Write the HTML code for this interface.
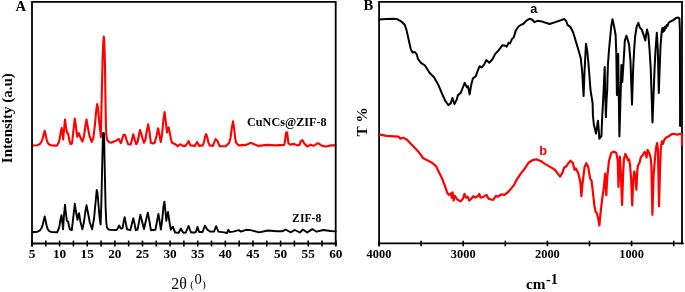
<!DOCTYPE html>
<html><head><meta charset="utf-8"><title>XRD and FTIR</title>
<style>
html,body{margin:0;padding:0;background:#fff;}
svg{display:block}
text{font-family:"Liberation Serif",serif;font-weight:bold;fill:#000}
.sans{font-family:"Liberation Sans",sans-serif}
</style></head><body>
<svg width="685" height="292" viewBox="0 0 685 292">
<rect width="685" height="292" fill="#fff"/>
<g fill="none" stroke-linejoin="round" stroke-linecap="round">
<polyline stroke="#f00" stroke-width="2.1" points="32.3,145.5 37.5,145.2 40.0,143.8 41.6,141.5 42.8,138.0 43.8,134.0 44.7,130.8 45.6,134.5 46.6,139.5 47.8,143.0 49.5,144.8 52.0,145.5 57.0,145.6 59.0,142.0 60.5,134.0 61.6,128.0 62.6,134.0 63.2,139.5 64.0,130.0 65.0,119.5 66.0,127.0 67.0,132.5 68.2,134.0 69.3,140.0 70.5,144.3 72.0,143.5 73.5,130.0 74.8,118.5 76.0,127.0 77.2,136.8 78.9,133.2 80.6,138.0 82.4,141.6 84.0,136.0 85.4,126.0 86.5,119.5 87.8,127.0 89.5,136.0 91.8,142.0 93.5,137.0 95.0,124.0 96.3,110.0 97.2,104.0 98.2,110.0 99.4,124.0 100.3,132.0 100.9,137.0 101.3,115.0 101.9,90.0 102.6,60.0 103.3,42.0 103.8,36.5 104.3,42.0 104.9,62.0 105.4,95.0 105.9,125.0 106.4,136.0 107.2,140.0 109.0,142.0 111.0,142.8 115.3,141.1 117.3,139.8 118.7,139.0 119.8,141.0 120.9,143.2 122.2,139.0 123.5,134.8 125.2,135.1 126.6,140.0 128.1,144.2 130.7,144.5 132.0,139.5 133.3,134.2 134.7,139.5 136.2,144.2 137.6,142.0 138.9,135.0 140.1,130.0 141.4,134.0 142.7,139.0 144.0,142.8 145.3,140.0 146.8,131.0 148.2,124.3 149.5,132.0 150.9,142.8 152.8,143.5 154.7,142.8 156.5,136.0 158.1,128.3 159.4,135.0 160.7,142.0 162.0,135.0 163.3,121.0 164.6,112.0 165.8,122.0 167.0,132.5 167.8,129.0 168.7,127.4 169.8,133.0 171.0,139.5 172.1,142.8 174.3,143.7 177.8,146.2 180.0,144.2 182.9,145.9 185.5,145.9 187.2,143.5 188.6,141.1 189.6,143.5 190.6,145.4 194.9,145.9 196.0,144.0 197.1,142.0 198.2,144.0 199.3,145.9 202.7,145.4 204.0,142.0 205.0,137.0 206.1,134.2 207.2,137.0 208.3,142.0 209.6,145.4 213.0,145.9 214.2,142.5 215.5,139.0 217.6,141.1 218.7,144.0 219.8,146.2 225.8,146.2 229.2,142.8 230.5,138.0 231.8,128.0 233.0,121.4 234.1,128.0 235.1,138.0 236.1,142.8 238.7,145.4 246.4,144.9 250.7,142.8 254.1,144.2 258.4,145.9 266.9,144.9 275.5,145.4 284.3,144.9 285.3,139.3 285.8,134.5 286.3,132.2 287.2,132.7 287.8,138.0 288.4,143.4 290.4,144.6 294.0,143.9 297.1,145.4 299.6,144.9 300.6,141.3 302.5,140.1 304.2,143.4 307.3,146.5 310.9,144.6 313.4,145.9 318.0,143.2 322.1,145.9 326.2,146.5 331.3,145.4 335.4,145.4"/>
<polyline stroke="#000" stroke-width="1.9" points="32.3,232.2 37.5,231.7 40.0,230.3 41.6,228.0 42.8,224.5 43.8,220.0 44.7,216.4 45.6,220.5 46.6,225.5 47.8,229.3 49.5,231.3 52.0,232.1 57.3,232.2 59.2,227.4 60.4,220.0 61.5,215.1 62.3,222.0 63.1,229.3 64.0,215.0 65.0,204.8 66.0,214.0 66.9,220.8 68.2,221.7 69.0,226.0 69.9,229.3 71.8,230.2 73.3,217.0 74.8,203.8 76.2,213.0 77.5,219.8 78.2,215.5 79.0,213.2 80.5,222.0 82.4,229.3 84.0,222.0 85.3,212.0 86.5,205.3 87.8,212.0 89.8,222.5 92.1,229.3 94.0,219.0 95.6,202.0 96.7,190.0 97.4,192.0 98.5,205.0 99.6,218.0 100.6,224.5 101.3,205.0 102.1,170.0 102.8,140.0 103.1,133.0 103.9,133.0 104.2,140.0 104.8,172.0 105.6,207.0 106.3,222.5 106.9,227.3 108.2,229.3 110.0,229.9 116.6,230.0 118.0,228.0 119.2,225.5 120.2,227.5 121.0,228.6 122.6,228.1 123.6,222.0 124.6,217.2 125.8,223.0 127.0,229.3 130.3,230.2 131.8,224.0 133.3,218.3 134.6,224.0 135.8,230.2 137.5,229.7 139.0,222.0 140.4,214.8 142.2,222.0 144.0,229.0 145.8,221.0 147.8,212.6 149.4,221.0 150.9,230.2 155.4,229.8 156.7,223.0 158.4,213.9 159.7,222.0 160.9,229.6 162.2,220.0 163.4,207.0 164.4,201.6 165.3,210.0 166.3,220.8 167.2,215.0 168.0,211.9 169.2,220.0 170.0,225.5 170.9,229.7 172.0,227.5 173.0,226.8 174.1,230.0 175.2,232.5 178.6,232.8 179.8,230.5 180.9,228.5 182.1,231.0 183.4,232.8 185.8,232.5 187.3,229.0 188.6,226.0 189.9,229.5 191.1,232.5 194.9,232.5 196.2,231.6 197.5,226.9 199.1,232.0 202.6,232.0 203.8,228.5 204.9,225.7 206.0,227.5 207.4,229.8 210.3,231.6 214.0,231.6 215.2,228.5 216.2,226.2 217.3,229.0 218.4,231.6 224.2,232.4 227.1,233.0 228.3,229.8 229.7,232.0 233.0,231.6 238.8,230.1 241.0,231.6 246.1,229.8 250.5,230.1 259.2,232.4 268.0,230.5 276.8,231.3 282.6,231.2 285.6,229.5 290.5,232.3 294.8,230.0 299.9,232.5 303.0,229.5 307.2,232.5 312.3,229.1 316.6,231.7 323.2,230.0 330.5,231.0 335.6,231.4"/>
<polyline stroke="#000" stroke-width="2" points="379.1,19.5 386.3,19.1 393.8,18.7 397.6,19.3 401.4,21.6 404.8,24.8 406.6,30.4 408.9,40.8 410.8,49.3 412.7,52.5 414.9,52.1 416.8,54.3 417.9,58.8 421.0,62.8 425.0,65.5 429.5,72.8 434.0,77.3 438.4,85.1 441.7,92.9 445.1,100.7 448.4,105.1 450.7,103.4 452.4,98.0 454.4,104.0 456.7,99.6 458.0,95.1 460.7,92.9 463.4,86.2 464.7,82.9 466.9,87.3 468.0,86.2 469.6,94.4 471.4,84.0 472.9,78.4 475.8,76.2 477.4,71.7 479.6,66.2 481.8,67.3 484.1,64.6 486.3,60.1 489.2,62.8 492.3,59.5 495.2,53.9 498.5,50.5 502.2,45.3 505.4,45.7 506.7,46.6 508.6,42.8 510.1,43.4 511.9,39.1 513.8,37.2 515.7,30.6 518.5,26.5 521.4,24.6 523.2,24.0 526.1,20.8 529.8,18.7 532.3,19.7 534.5,22.1 537.4,20.8 542.1,21.6 549.6,24.0 555.3,22.1 560.9,20.2 564.3,18.9 566.2,21.2 567.5,24.9 570.3,26.8 573.2,32.5 576.0,41.9 578.8,51.3 580.7,57.9 582.2,72.0 583.6,96.0 584.6,70.0 586.0,43.8 587.4,52.0 588.6,65.0 590.5,90.0 592.6,103.0 592.9,115.0 593.8,124.2 596.0,133.6 598.0,120.7 599.4,138.7 601.4,136.2 602.3,115.0 603.4,95.0 604.1,80.0 604.7,67.0 605.1,90.0 605.9,117.3 606.5,101.0 607.2,90.0 607.5,78.0 607.9,65.0 609.0,50.0 610.3,36.0 611.3,26.0 612.5,19.3 614.1,26.5 615.6,34.7 616.3,53.0 616.9,95.0 617.6,58.0 618.2,54.0 619.4,136.5 620.7,92.0 621.4,65.0 622.3,82.0 623.2,68.0 624.0,55.3 624.8,40.9 626.4,35.7 628.1,40.9 629.1,45.0 630.5,61.4 632.0,104.4 633.2,67.6 634.2,49.1 635.1,36.8 636.7,26.5 638.4,22.8 639.8,27.5 641.8,29.6 643.9,35.7 645.3,40.5 647.0,29.6 648.4,34.7 649.5,49.1 650.7,67.6 652.5,122.5 654.6,67.6 655.6,49.1 656.8,32.7 657.8,49.0 658.8,93.0 659.7,67.0 660.6,45.0 661.8,30.6 662.5,28.0 663.2,31.8 663.8,27.8 664.4,30.8 665.2,26.5 666.0,28.0 666.8,25.0 667.6,26.0 668.5,23.0 669.6,22.0 672.7,20.3 675.7,18.3 678.2,17.4 679.4,18.5 679.9,30.6 680.1,126.0"/>
</g>
<g fill="none" stroke="#000" stroke-width="1.8">
<path d="M32 246.4V1.9H335.7V245.8"/>
<path d="M31.1 243.5H336.6"/>
<path d="M379.1 246.2V1.9H682V244.3"/>
<path d="M378.2 243.3H683.8"/>
</g>
<g stroke="#000" stroke-width="1.6"><line x1="32.00" y1="240.6" x2="32.00" y2="246.5"/><line x1="45.81" y1="240.6" x2="45.81" y2="246.5"/><line x1="59.62" y1="240.6" x2="59.62" y2="246.5"/><line x1="73.43" y1="240.6" x2="73.43" y2="246.5"/><line x1="87.24" y1="240.6" x2="87.24" y2="246.5"/><line x1="101.05" y1="240.6" x2="101.05" y2="246.5"/><line x1="114.86" y1="240.6" x2="114.86" y2="246.5"/><line x1="128.67" y1="240.6" x2="128.67" y2="246.5"/><line x1="142.48" y1="240.6" x2="142.48" y2="246.5"/><line x1="156.29" y1="240.6" x2="156.29" y2="246.5"/><line x1="170.10" y1="240.6" x2="170.10" y2="246.5"/><line x1="183.91" y1="240.6" x2="183.91" y2="246.5"/><line x1="197.72" y1="240.6" x2="197.72" y2="246.5"/><line x1="211.53" y1="240.6" x2="211.53" y2="246.5"/><line x1="225.34" y1="240.6" x2="225.34" y2="246.5"/><line x1="239.15" y1="240.6" x2="239.15" y2="246.5"/><line x1="252.96" y1="240.6" x2="252.96" y2="246.5"/><line x1="266.77" y1="240.6" x2="266.77" y2="246.5"/><line x1="280.58" y1="240.6" x2="280.58" y2="246.5"/><line x1="294.39" y1="240.6" x2="294.39" y2="246.5"/><line x1="308.20" y1="240.6" x2="308.20" y2="246.5"/><line x1="322.01" y1="240.6" x2="322.01" y2="246.5"/><line x1="335.82" y1="240.6" x2="335.82" y2="246.5"/><line x1="379.00" y1="240.7" x2="379.00" y2="246.3"/><line x1="421.10" y1="240.7" x2="421.10" y2="246.3"/><line x1="463.20" y1="240.7" x2="463.20" y2="246.3"/><line x1="505.30" y1="240.7" x2="505.30" y2="246.3"/><line x1="547.40" y1="240.7" x2="547.40" y2="246.3"/><line x1="589.50" y1="240.7" x2="589.50" y2="246.3"/><line x1="631.60" y1="240.7" x2="631.60" y2="246.3"/><line x1="673.70" y1="240.7" x2="673.70" y2="246.3"/></g>
<polyline fill="none" stroke-linejoin="round" stroke="#f00" stroke-width="2.2" points="379.1,134.4 386.3,135.9 393.8,136.3 398.5,136.7 400.4,138.6 403.2,137.8 407.0,139.7 412.7,145.7 418.3,151.4 423.0,158.0 427.7,160.4 432.4,163.0 436.2,166.4 438.5,171.3 442.2,178.8 445.1,186.4 447.3,193.0 448.8,194.8 451.1,193.5 451.7,197.7 452.6,192.4 453.7,200.5 454.9,195.8 457.3,199.5 460.7,201.4 463.0,198.6 464.5,193.9 466.2,197.7 467.7,196.7 469.2,200.5 471.4,198.6 473.3,196.2 475.6,197.7 478.0,195.8 479.3,193.9 480.5,197.7 483.7,196.7 486.5,194.8 488.4,198.6 491.2,199.5 493.1,199.9 495.9,195.8 497.8,196.7 501.6,194.3 504.4,194.8 508.2,192.0 511.0,188.6 513.8,185.4 516.6,179.8 520.4,174.1 523.8,169.8 528.5,162.8 533.2,159.8 536.9,159.4 540.7,160.9 544.5,163.6 550.1,166.9 554.8,169.8 557.7,173.5 560.1,176.7 562.4,172.6 564.3,167.3 566.1,166.6 568.0,163.6 570.5,160.7 572.7,162.8 574.6,169.8 575.9,168.5 578.4,173.5 580.3,182.0 581.4,196.1 582.7,182.0 584.6,166.9 586.3,163.2 588.2,166.9 590.1,178.2 591.6,181.1 592.7,190.3 594.4,205.7 595.6,211.7 597.0,213.4 598.4,219.5 599.4,225.5 600.4,214.3 602.2,198.9 603.9,186.9 605.1,173.5 606.3,195.2 607.2,178.2 608.9,161.3 611.3,152.8 614.2,151.6 616.4,153.2 617.7,160.0 618.5,187.0 619.4,165.0 619.9,156.5 620.7,170.0 622.1,204.9 623.2,172.0 623.9,159.4 625.4,153.9 627.0,157.3 628.0,160.4 629.0,159.4 630.0,164.5 631.2,180.0 632.2,205.4 633.3,180.0 634.2,171.7 635.2,176.0 636.4,189.8 637.2,172.0 637.9,166.0 639.8,162.0 640.8,157.3 642.9,155.0 644.6,151.8 646.0,154.2 646.5,157.5 647.6,149.9 649.2,153.0 650.6,157.5 651.4,166.0 652.4,214.8 653.6,175.0 655.2,156.0 656.2,147.0 657.1,143.0 658.0,150.0 659.0,206.2 660.0,170.0 660.9,147.3 661.9,141.3 663.1,143.8 664.0,140.4 665.9,137.7 669.2,136.0 671.7,134.2 674.1,133.8 677.4,134.8 679.9,133.8 681.4,134.2 682.0,134.5 682.0,146.0"/>
<g font-size="13.3px"><text x="32.00" y="258" text-anchor="middle">5</text><text x="59.62" y="258" text-anchor="middle">10</text><text x="87.24" y="258" text-anchor="middle">15</text><text x="114.86" y="258" text-anchor="middle">20</text><text x="142.48" y="258" text-anchor="middle">25</text><text x="170.10" y="258" text-anchor="middle">30</text><text x="197.72" y="258" text-anchor="middle">35</text><text x="225.34" y="258" text-anchor="middle">40</text><text x="252.96" y="258" text-anchor="middle">45</text><text x="280.58" y="258" text-anchor="middle">50</text><text x="308.20" y="258" text-anchor="middle">55</text><text x="335.82" y="258" text-anchor="middle">60</text></g>
<g font-size="12.4px"><text x="379.00" y="257.7" text-anchor="middle">4000</text><text x="463.20" y="257.7" text-anchor="middle">3000</text><text x="547.40" y="257.7" text-anchor="middle">2000</text><text x="631.60" y="257.7" text-anchor="middle">1000</text></g>
<text x="15.6" y="10.9" font-size="14.6px">A</text>
<text x="363.6" y="10.3" font-size="14.6px">B</text>
<text transform="translate(12.3,163.2) rotate(-90)" font-size="15px">Intensity (a.u)</text>
<text transform="translate(366.6,136.6) rotate(-90)" font-size="15.5px">T %</text>
<text transform="translate(247.1,125.6) scale(1,1.11)" font-size="12.15px">CuNCs@ZIF-8</text>
<text transform="translate(292.1,221.9) scale(1,1.05)" font-size="11.7px">ZIF-8</text>
<text x="171.2" y="288.7" font-size="15.8px" textLength="15.6" lengthAdjust="spacingAndGlyphs" style="font-weight:normal">2θ</text>
<text x="190.2" y="288.4" font-size="10.5px" style="font-weight:normal">(</text>
<text x="194.4" y="283.7" font-size="14.6px" style="font-weight:normal">0</text>
<text x="202.2" y="288.4" font-size="10.5px" style="font-weight:normal">)</text>
<text x="526" y="288.7" font-size="15.3px">cm</text>
<text x="546" y="283.8" font-size="14.3px">-1</text>
<text class="sans" x="530.3" y="13.3" font-size="12.7px">a</text>
<text class="sans" x="539.3" y="154.5" font-size="12.8px" style="fill:#f00">b</text>
</svg>
</body></html>
